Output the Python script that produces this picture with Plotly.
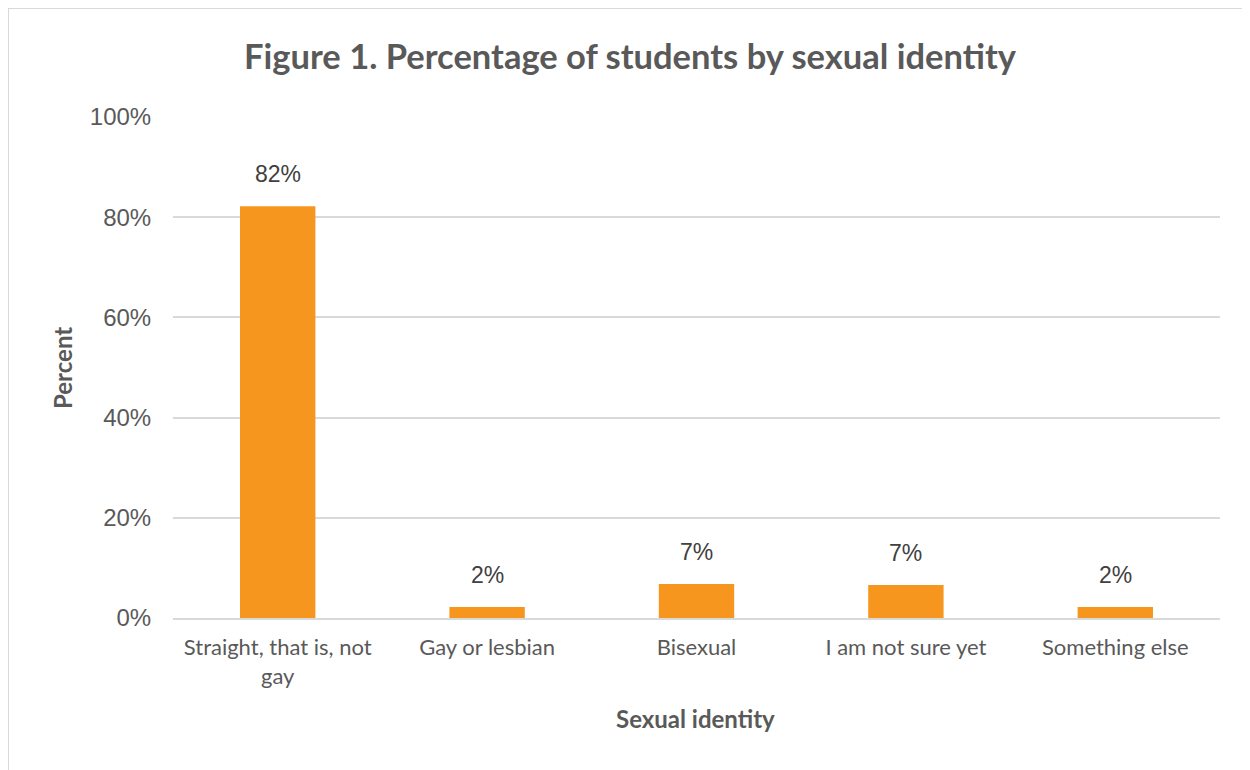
import plotly.graph_objects as go

categories = ["Straight, that is, not<br>gay", "Gay or lesbian", "Bisexual", "I am not sure yet", "Something else"]
values = [82.2, 2.2, 6.8, 6.6, 2.2]
labels = ["82%", "2%", "7%", "7%", "2%"]
yticks = [0, 20, 40, 60, 80, 100]
yticklabels = ["0%", "20%", "40%", "60%", "80%", "100%"]

OFF = 8  # page body margin
W, H = 1250, 770
L, T = 173 - OFF, 117 - OFF
R = W - (1220 - OFF)
B = H - (618 - OFF)
pw, ph = W - L - R, H - T - B

fig = go.Figure()
fig.add_trace(go.Bar(x=categories, y=values, marker=dict(color="#F7961E", line=dict(width=0)),
                     width=0.36, hoverinfo="skip"))

for c, v, t in zip(categories, values, labels):
    fig.add_annotation(x=c, y=v, text=t, showarrow=False, yanchor="bottom", yshift=17,
                       font=dict(family="Liberation Sans, Arial", size=23, color="#404040"))

# chart border
fig.add_shape(type="rect", xref="paper", yref="paper",
              x0=(0 - L) / pw, x1=(W + 20 - L) / pw,
              y0=(H - B - H - 20) / ph, y1=(H - B - 0) / ph,
              line=dict(color="#d9d9d9", width=2), fillcolor="rgba(0,0,0,0)", layer="below")

# axis titles
fig.add_annotation(xref="paper", yref="paper", x=(695 - 173) / pw, y=0, yanchor="middle",
                   yshift=-(718 - 618), text="<b>Sexual identity</b>", showarrow=False,
                   font=dict(family="Lato, Open Sans", size=24, color="#595959"))
fig.add_annotation(xref="paper", yref="paper", x=0, xanchor="center", xshift=-(173 - 62),
                   y=(618 - 368) / ph, yanchor="middle", textangle=-90,
                   text="<b>Percent</b>", showarrow=False,
                   font=dict(family="Lato, Open Sans", size=24, color="#595959"))

fig.update_layout(
    width=W, height=H,
    margin=dict(l=L, r=R, t=T, b=B),
    paper_bgcolor="white", plot_bgcolor="white",
    showlegend=False,
    title=dict(text="<b>Figure 1. Percentage of students by sexual identity</b>",
               x=(630 - OFF) / W, xanchor="center", y=1 - (57 - OFF) / H, yanchor="middle",
               font=dict(family="Lato, Open Sans", size=34.5, color="#595959")),
)
fig.update_yaxes(range=[0, 100], tickvals=yticks, ticktext=yticklabels,
                 showgrid=True, gridcolor="#d9d9d9", gridwidth=1.5, zeroline=False,
                 showline=False, ticks="outside", ticklen=16, tickcolor="rgba(0,0,0,0)",
                 tickfont=dict(family="Liberation Sans, Arial", size=24, color="#595959"))
fig.update_xaxes(showline=True, linecolor="#d9d9d9", linewidth=1.5, showgrid=False,
                 ticks="outside", ticklen=9, tickcolor="rgba(0,0,0,0)",
                 tickfont=dict(family="Lato, Open Sans", size=22, color="#595959"))

fig.write_html("out.html")
